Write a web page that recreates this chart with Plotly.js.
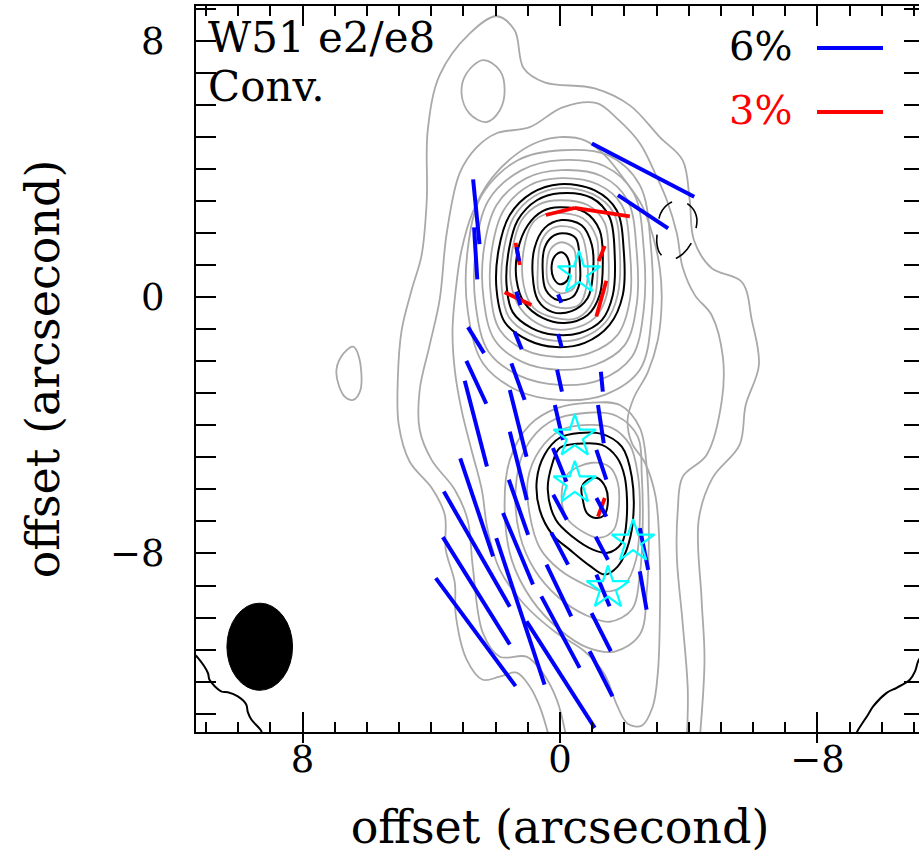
<!DOCTYPE html>
<html><head><meta charset="utf-8">
<script src="https://cdn.plot.ly/plotly-3.0.1.min.js"></script>
<style>
html,body{margin:0;padding:0;overflow:hidden;background:#fff;}
#chart{width:925px;height:854px;}
</style></head><body><div id="chart"></div>
<script>
// ---------- gray (Stokes I) contours, arcsec offsets ----------
const c1X = [0.32,0.63,0.94,1.35,1.87,2.40,2.90,3.24,3.27,3.55,3.58,3.99,4.67,5.01,5.04,4.92,4.61,4.30,4.14,4.11,3.74,2.81,1.97,1.41,1.13,0.48,-1.08,-2.17,-3.10,-3.81,-4.03,-4.16,-4.71,-5.65,-5.96,-6.18,-5.77,-5.58,-4.74,-4.31,-4.40,-4.49,-4.34];
const c1Y = [-13.8,-12.78,-12.15,-11.72,-11.84,-11.94,-11.31,-9.91,-8.91,-7.88,-6.79,-5.95,-5.14,-3.99,-2.59,-1.03,0.22,1.31,3.02,5.20,6.92,8.22,8.76,8.32,7.14,6.70,6.51,5.98,4.99,4.27,3.02,1.78,0.90,0.47,-0.72,-2.12,-3.37,-4.61,-5.64,-6.95,-9.44,-11.31,-13.8];
const c2X = [-0.21,0.10,0.54,1.04,1.87,2.40,2.71,2.87,3.27,3.99,4.36,4.36,4.05,3.74,3.52,3.12,2.59,1.97,0.94,-0.08,-1.14,-1.76,-2.48,-3.01,-3.32,-3.63,-3.81,-4.19,-4.71,-5.06,-5.03,-4.56,-3.81,-3.66,-3.63,-3.81,-3.97,-3.94];
const c2Y = [-13.8,-12.56,-11.72,-11.22,-11.22,-10.47,-8.41,-6.95,-6.01,-5.08,-4.14,-2.90,-1.50,-0.09,1.99,3.86,4.67,5.11,5.30,5.92,6.05,5.58,4.80,3.74,3.02,1.99,0.93,0.06,-0.56,-1.87,-3.21,-4.92,-5.61,-6.64,-8.10,-10.16,-12.25,-13.8];
const c3X = [0.01,-0.77,-1.39,-2.01,-2.54,-2.88,-3.10,-3.16,-3.04,-2.73,-2.29,-2.10,-2.23,-2.64,-2.97,-3.10,-3.10,-3.04,-2.88,-2.54,-2.10,-1.76,-1.39,-0.77,0.16,1.10,1.87,2.25,2.43,2.75,3.06,3.27,3.34,3.24,3.06,2.71,2.12,1.31,0.63];
const c3Y = [4.99,4.89,4.43,3.65,2.87,1.93,0.90,-0.09,-1.34,-2.34,-3.15,-3.83,-4.55,-5.17,-6.23,-8.10,-10.16,-11.72,-12.78,-13.37,-13.31,-12.71,-11.78,-11.06,-10.44,-9.60,-8.51,-7.26,-6.01,-4.77,-3.52,-2.27,-1.03,0.22,1.46,2.65,3.71,4.49,4.86];
const topLoopX = [3.06,2.91,2.39,1.87,1.72,1.87,2.29,2.81];
const topLoopY = [6.35,6.97,7.39,7.07,6.45,5.83,5.46,5.72];
const leftLoopX = [6.43,6.25,6.20,6.43,6.69,6.95,6.80];
const leftLoopY = [-1.55,-1.86,-2.90,-3.21,-3.11,-2.38,-1.86];
// e2 gray rings (outer -> inner)
const giX = [-0.05,-1.48,-2.48,-2.82,-2.85,-2.48,-1.39,0.01,1.35,2.40,2.87,2.87,2.43,1.31];
const giY = [4.58,4.43,3.49,1.62,-0.56,-2.27,-3.05,-3.21,-2.90,-2.06,-0.41,1.46,3.18,4.27];
const ghX = [-0.05,-1.39,-2.29,-2.60,-2.60,-2.23,-1.23,0.01,1.25,2.22,2.62,2.62,2.22,1.19];
const ghY = [4.27,4.08,3.24,1.53,-0.41,-1.87,-2.59,-2.74,-2.46,-1.71,-0.25,1.46,3.02,3.96];
const ggX = [-0.05,-1.30,-2.10,-2.38,-2.38,-2.01,-1.08,0.01,1.16,2.03,2.37,2.37,1.97,1.04];
const ggY = [3.96,3.77,3.02,1.46,-0.25,-1.50,-2.12,-2.27,-2.03,-1.34,-0.09,1.46,2.87,3.71];
const gfX = [-0.02,-1.17,-1.92,-2.17,-2.17,-1.79,-0.92,0.07,1.10,1.87,2.15,2.12,1.75,0.94];
const gfY = [3.71,3.52,2.87,1.46,-0.09,-1.18,-1.75,-1.87,-1.65,-1.03,0.06,1.46,2.71,3.49];
const geX = [0.01,-1.02,-1.67,-1.86,-1.79,-1.42,-0.67,0.13,0.94,1.59,1.81,1.75,1.44,0.79];
const geY = [3.40,3.21,2.62,1.40,0.06,-0.78,-1.28,-1.37,-1.15,-0.62,0.28,1.46,2.49,3.15];
const gdX = [0.01,-0.86,-1.39,-1.51,-1.45,-1.08,-0.30,0.48,1.22,1.53,1.47,1.19,0.63];
const gdY = [3.02,2.87,2.31,1.22,0.06,-0.65,-1.00,-0.93,-0.37,0.47,1.53,2.40,2.90];
const gcX = [-0.02,-0.71,-1.14,-1.17,-1.05,-0.55,0.16,0.82,1.13,1.13,0.85,0.44];
const gcY = [2.62,2.46,1.84,0.90,-0.09,-0.65,-0.65,-0.34,0.37,1.46,2.31,2.59];
const gbX = [-0.05,-0.61,-0.83,-0.83,-0.58,0.13,0.63,0.69,0.60,0.32];
const gbY = [2.21,2.03,1.31,0.37,-0.25,-0.31,0.09,0.90,1.68,2.09];
const gaX = [-0.05,-0.43,-0.49,-0.43,0.01,0.35,0.41,0.29];
const gaY = [1.71,1.50,0.84,0.28,0.12,0.41,1.00,1.50];
// e8 gray rings
const e8cX = [-0.86,-1.86,-2.48,-2.70,-2.76,-2.70,-2.48,-1.70,-0.86,0.01,0.88,1.50,1.72,1.56,0.94,0.07];
const e8cY = [-3.30,-3.37,-4.08,-5.39,-7.26,-9.13,-10.53,-11.06,-10.94,-10.38,-9.44,-8.20,-6.64,-5.08,-3.99,-3.46];
const e8bX = [-0.86,-1.76,-2.42,-2.54,-2.57,-2.48,-2.23,-1.54,-0.77,0.07,0.79,1.25,1.38,1.10,0.32];
const e8bY = [-3.61,-3.71,-4.36,-5.55,-7.11,-8.66,-9.75,-10.13,-9.91,-9.35,-8.51,-7.42,-6.01,-4.77,-3.90];
const e8aX = [-0.86,-1.61,-2.17,-2.42,-2.48,-2.36,-2.01,-1.39,-0.77,0.01,0.63,0.94,1.00,0.63,-0.05];
const e8aY = [-3.99,-4.08,-4.61,-5.55,-6.95,-8.20,-8.97,-9.19,-8.97,-8.51,-7.82,-6.79,-5.70,-4.77,-4.14];
const e8iX = [-0.99,-1.54,-1.79,-1.82,-1.67,-1.23,-0.71,-0.21,-0.05,-0.24];
const e8iY = [-5.17,-5.30,-5.77,-6.64,-7.26,-7.51,-7.32,-6.89,-6.17,-5.52];

// ---------- black contours ----------
const k6X = [0.01,-1.08,-1.76,-1.98,-1.95,-1.54,-0.77,0.13,1.00,1.72,1.97,1.91,1.56,0.88];
const k6Y = [3.52,3.33,2.71,1.46,0.06,-0.87,-1.43,-1.56,-1.34,-0.78,0.22,1.46,2.56,3.24];
const k5X = [0.01,-0.99,-1.54,-1.70,-1.64,-1.30,-0.61,0.16,0.88,1.47,1.66,1.59,1.31,0.72];
const k5Y = [3.24,3.09,2.49,1.31,0.06,-0.72,-1.12,-1.18,-0.97,-0.47,0.37,1.46,2.40,3.02];
const k4X = [0.01,-0.77,-1.23,-1.33,-1.23,-0.86,-0.15,0.54,1.10,1.35,1.31,1.00,0.54];
const k4Y = [2.80,2.65,2.09,1.09,0.06,-0.56,-0.81,-0.65,-0.19,0.53,1.46,2.24,2.68];
const k3X = [-0.05,-0.67,-0.99,-1.02,-0.86,-0.36,0.23,0.69,0.85,0.79,0.48];
const k3Y = [2.40,2.24,1.62,0.69,-0.03,-0.44,-0.47,-0.09,0.69,1.53,2.15];
const k2X = [-0.08,-0.49,-0.61,-0.61,-0.39,0.07,0.44,0.54,0.48,0.26];
const k2Y = [1.99,1.84,1.15,0.44,0.00,-0.09,0.22,0.90,1.53,1.87];
const k1X = [-0.05,-0.24,-0.30,-0.21,0.01,0.20,0.26,0.16];
const k1Y = [1.40,1.22,0.84,0.50,0.40,0.59,0.97,1.28];
const ke3X = [0.01,-0.61,-1.30,-1.92,-2.23,-2.26,-2.07,-1.79,-1.39,-0.92,-0.30,0.23,0.63,0.72,0.48];
const ke3Y = [-4.39,-4.24,-4.27,-4.67,-5.61,-7.04,-7.88,-8.41,-8.66,-8.38,-7.88,-7.42,-6.64,-5.70,-4.92];
const ke2X = [0.01,-0.52,-1.30,-1.76,-2.01,-2.07,-1.92,-1.48,-1.02,-0.39,0.13,0.38,0.23];
const ke2Y = [-4.71,-4.58,-4.61,-4.99,-5.61,-6.95,-7.67,-7.98,-7.88,-7.48,-6.95,-6.01,-5.17];
const ke1X = [-0.86,-1.14,-1.42,-1.48,-1.36,-1.11,-0.83,-0.71,-0.67];
const ke1Y = [-5.70,-5.64,-5.95,-6.48,-6.82,-6.89,-6.73,-6.33,-5.95];
const cornerLX = [11.39,11.25,10.94,10.89,10.53,10.32,10.01,9.75,9.70,9.59,9.30,9.24];
const cornerLY = [-11.13,-11.26,-11.73,-11.94,-12.30,-12.33,-12.46,-12.71,-12.95,-13.18,-13.51,-13.65];
const cornerRX = [-9.19,-9.26,-9.57,-9.73,-10.15,-10.46,-10.87,-11.03,-11.13,-11.34];
const cornerRY = [-13.65,-13.51,-13.03,-12.77,-12.35,-12.19,-11.94,-11.68,-11.36,-11.0];
const negLoopX = [-3.72,-4.09,-4.25,-4.19,-4.06,-3.81,-3.41,-3.10,-3.01,-3.04,-3.13,-3.41];
const negLoopY = [3.01,2.80,2.46,1.99,1.65,1.34,1.15,1.37,1.68,2.15,2.62,2.93];

// ---------- polarization segments (6% scale, blue) ----------
const blueX0 = [-0.99,-1.80,2.70,2.67,1.35,1.36,0.06,2.86,1.41,0.06,2.91,1.51,0.09,-1.27,2.96,1.56,0.16,-1.18,1.56,0.22,-1.13,3.10,1.59,0.21,-1.13,3.61,1.77,0.27,-1.11,-2.48,3.64,1.98,0.42,-1.13,-2.48,3.86,0.58,-0.98,1.04,-0.92];
const blueY0 = [4.79,3.18,3.67,2.17,1.56,0.17,0.08,-0.94,-1.08,-1.15,-1.99,-2.07,-2.27,-2.33,-2.61,-2.90,-3.37,-3.37,-4.20,-4.71,-4.77,-5.03,-5.70,-6.17,-6.27,-6.07,-6.74,-7.35,-7.48,-7.21,-7.49,-7.52,-8.35,-8.66,-8.56,-8.77,-9.34,-9.86,-10.12,-11.05];
const blueX1 = [-4.17,-3.36,2.50,2.57,1.27,1.23,-0.04,2.36,1.19,-0.05,2.29,1.10,-0.06,-1.33,2.27,1.04,-0.09,-1.36,1.03,-0.20,-1.44,2.08,0.99,-0.21,-1.44,1.56,0.84,-0.25,-1.49,-2.74,1.56,0.48,-0.35,-1.54,-2.69,1.38,-0.61,-1.58,-1.08,-1.63];
const blueY1 = [3.13,2.14,1.65,0.55,1.12,-0.25,-0.18,-1.75,-1.63,-1.56,-3.33,-3.21,-2.95,-2.95,-5.29,-4.98,-4.46,-4.56,-6.33,-5.76,-5.70,-8.09,-7.42,-6.95,-6.85,-9.66,-8.97,-8.35,-8.20,-8.51,-10.84,-12.09,-9.96,-9.65,-9.75,-12.14,-11.57,-11.05,-13.44,-12.46];
// ---------- polarization segments (3% scale, red) ----------
const redX0 = [0.44,-0.46,1.38,1.72,-1.39,-1.44,-1.39];
const redY0 = [2.56,2.78,1.69,0.15,1.59,0.51,-6.27];
const redX1 = [-0.46,-2.17,1.25,0.89,-1.20,-1.13,-1.18];
const redY1 = [2.78,2.52,1.00,-0.25,1.12,-0.61,-6.85];
// ---------- sources (stars) ----------
const starX = [-0.59,-0.46,-0.46,-2.27,-1.49];
const starY = [0.74,-4.35,-5.81,-7.63,-9.08];
// ---------- beam ----------
const beamX = [9.33];
const beamY = [-10.91];
const beamW = [2.04];
const beamH = [2.72];
// ---------- labels ----------
const xTickVals = [8, 0, -8];
const yTickVals = [8, 0, -8];
const titleLines = ['W51 e2/e8', 'Conv.'];
const scaleLabels = ['6%', '3%'];

// ================= build =================
const FONT = 'DejaVu Serif';
function closedPath(xs, ys) { return {x: xs.concat([xs[0]]), y: ys.concat([ys[0]])}; }
function line(xs, ys, closed, color, width, dash) {
  const p = closed ? closedPath(xs, ys) : {x: xs, y: ys};
  return {type: 'scatter', mode: 'lines', x: p.x, y: p.y, hoverinfo: 'skip', showlegend: false,
    line: {color: color, width: width, shape: 'spline', smoothing: 1, dash: dash || 'solid'}};
}
function segs(x0, y0, x1, y1, color, width) {
  const xs = [], ys = [];
  for (let i = 0; i < x0.length; i++) { xs.push(x0[i], x1[i], null); ys.push(y0[i], y1[i], null); }
  return {type: 'scatter', mode: 'lines', x: xs, y: ys, hoverinfo: 'skip', showlegend: false,
    line: {color: color, width: width}};
}
const GRAY = '#a9a9a9', GW = 1.8, BLK = '#000000', BW = 2;
const traces = [];
traces.push(line(c1X, c1Y, false, GRAY, GW));
traces.push(line(c2X, c2Y, false, GRAY, GW));
traces.push(line(c3X, c3Y, true, GRAY, GW));
traces.push(line(topLoopX, topLoopY, true, GRAY, GW));
traces.push(line(leftLoopX, leftLoopY, true, GRAY, GW));
[[giX,giY],[ghX,ghY],[ggX,ggY],[gfX,gfY],[geX,geY],[gdX,gdY],[gcX,gcY],[gbX,gbY],[gaX,gaY],
 [e8cX,e8cY],[e8bX,e8bY],[e8aX,e8aY],[e8iX,e8iY]].forEach(function (c) { traces.push(line(c[0], c[1], true, GRAY, GW)); });
[[k6X,k6Y],[k5X,k5Y],[k4X,k4Y],[k3X,k3Y],[k2X,k2Y],[k1X,k1Y],[ke3X,ke3Y],[ke2X,ke2Y],[ke1X,ke1Y]]
  .forEach(function (c) { traces.push(line(c[0], c[1], true, BLK, BW)); });
traces.push(line(cornerLX, cornerLY, false, BLK, BW));
traces.push(line(cornerRX, cornerRY, false, BLK, BW));
traces.push(line(negLoopX, negLoopY, true, BLK, 1.6, '22px,16px'));
traces.push(segs(redX0, redY0, redX1, redY1, '#ff0000', 3.8));
traces.push(segs(blueX0, blueY0, blueX1, blueY1, '#0000ff', 4));
traces.push({type: 'scatter', mode: 'markers', x: starX, y: starY, hoverinfo: 'skip', showlegend: false,
  marker: {symbol: 'star-open', size: 32, color: '#00ffff', line: {color: '#00ffff', width: 2.2}}});
traces.push({type: 'scatter', mode: 'markers', x: [null], y: [null], xaxis: 'x2', yaxis: 'y', showlegend: false, hoverinfo: 'skip'});

const XR = [11.31, -11.31], YR = [-13.57, 9.08];
const axisCommon = {
  showgrid: false, zeroline: false, showline: true, linecolor: '#000', linewidth: 2,
  mirror: 'allticks', ticks: 'inside', ticklen: 20, tickwidth: 2, tickcolor: '#000',
  tickmode: 'array',
  tickfont: {family: FONT, size: 37, color: '#000'},
  minor: {ticks: 'inside', ticklen: 10, tickwidth: 2, tickcolor: '#000', dtick: 1, tick0: 0, showgrid: false}
};
// paper coordinates of plot area: x 196..924, y 6..732 (px)
function px2paperX(px) { return (px - 196) / 728; }
function px2paperY(py) { return (732 - py) / 726; }

const layout = {
  width: 925, height: 854,
  margin: {l: 196, r: 1, t: 6, b: 122, pad: 0},
  paper_bgcolor: '#fff', plot_bgcolor: '#fff',
  showlegend: false, hovermode: false,
  xaxis: Object.assign({}, axisCommon, {range: XR, tickvals: xTickVals, ticktext: ['8', '0', '\u22128'],
    ticklabelstandoff: -6,
    title: {text: 'offset (arcsecond)', font: {family: FONT, size: 46, color: '#000'}, standoff: 35}}),
  xaxis2: {overlaying: 'x', anchor: 'y', side: 'bottom', range: XR, showgrid: false, zeroline: false,
    showline: false, ticks: 'outside', ticklen: 10, tickwidth: 2, tickcolor: '#000', tickmode: 'array',
    tickvals: xTickVals, showticklabels: false},
  yaxis: Object.assign({}, axisCommon, {range: YR, tickvals: yTickVals, ticktext: ['8', '0', '\u22128'],
    ticklabelstandoff: 22,
    title: {text: 'offset (arcsecond)', font: {family: FONT, size: 46, color: '#000'}, standoff: 36}}),
  shapes: [
    {type: 'circle', xref: 'x', yref: 'y', x0: beamX[0] - beamW[0] / 2, x1: beamX[0] + beamW[0] / 2,
     y0: beamY[0] - beamH[0] / 2, y1: beamY[0] + beamH[0] / 2, fillcolor: '#000', line: {color: '#000', width: 1}},
    {type: 'line', xref: 'paper', yref: 'paper', x0: px2paperX(817), x1: px2paperX(883), y0: px2paperY(48), y1: px2paperY(48),
     line: {color: '#0000ff', width: 4}},
    {type: 'line', xref: 'paper', yref: 'paper', x0: px2paperX(817), x1: px2paperX(883), y0: px2paperY(112), y1: px2paperY(112),
     line: {color: '#ff0000', width: 4}}
  ],
  annotations: [
    {xref: 'paper', yref: 'paper', x: px2paperX(206), y: px2paperY(37), xanchor: 'left', yanchor: 'middle',
     text: titleLines[0], showarrow: false, font: {family: FONT, size: 42, color: '#000'}},
    {xref: 'paper', yref: 'paper', x: px2paperX(206), y: px2paperY(86), xanchor: 'left', yanchor: 'middle',
     text: titleLines[1], showarrow: false, font: {family: FONT, size: 42, color: '#000'}},
    {xref: 'paper', yref: 'paper', x: px2paperX(794), y: px2paperY(46), xanchor: 'right', yanchor: 'middle',
     text: scaleLabels[0], showarrow: false, font: {family: FONT, size: 40, color: '#000'}},
    {xref: 'paper', yref: 'paper', x: px2paperX(794), y: px2paperY(110), xanchor: 'right', yanchor: 'middle',
     text: scaleLabels[1], showarrow: false, font: {family: FONT, size: 40, color: '#ff0000'}}
  ]
};
Plotly.newPlot('chart', traces, layout, {staticPlot: true, displayModeBar: false});
</script></body></html>
